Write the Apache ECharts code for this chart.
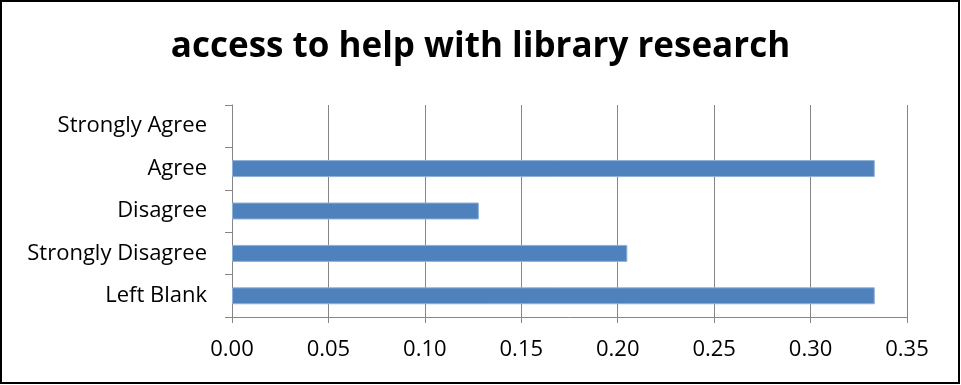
<!DOCTYPE html>
<html>
<head>
<meta charset="utf-8">
<script src="https://cdn.jsdelivr.net/npm/echarts@6/dist/echarts.min.js"></script>
<style>
html,body{margin:0;padding:0;background:#fff;}
#chart{width:961px;height:385px;}
</style>
</head>
<body>
<div id="chart"></div>
<script>
const titleText = 'access to help with library research';
const categories = ['Left Blank', 'Strongly Disagree', 'Disagree', 'Agree', 'Strongly Agree'];
const values = [0.3333, 0.205, 0.128, 0.3333, 0];
const xTicks = { min: 0, max: 0.35, interval: 0.05 };

const chart = echarts.init(document.getElementById('chart'), null, { renderer: 'canvas' });
chart.setOption({
  animation: false,
  backgroundColor: '#fff',
  title: {
    text: titleText,
    left: 'center',
    top: 25,
    textStyle: { fontFamily: 'Open Sans', fontWeight: 'bold', fontSize: 35, color: '#000' }
  },
  graphic: [{
    type: 'rect',
    shape: { x: 1, y: 1, width: 958, height: 382 },
    style: { fill: 'none', stroke: '#000', lineWidth: 2 },
    silent: true
  }],
  grid: { left: 232, right: 54, top: 105, bottom: 68, containLabel: false },
  xAxis: {
    type: 'value',
    min: xTicks.min, max: xTicks.max, interval: xTicks.interval,
    axisLine: { show: true, lineStyle: { color: '#868686', width: 1 } },
    axisTick: { show: true, length: 6, lineStyle: { color: '#868686' } },
    splitLine: { show: true, lineStyle: { color: '#868686', width: 1 } },
    axisLabel: {
      formatter: v => v.toFixed(2),
      fontFamily: 'Open Sans', fontSize: 22, color: '#000', margin: 22
    }
  },
  yAxis: {
    type: 'category',
    data: categories,
    axisLine: { show: true, lineStyle: { color: '#868686', width: 1 } },
    axisTick: { show: true, length: 7, lineStyle: { color: '#868686' } },
    splitLine: { show: false },
    axisLabel: { fontFamily: 'Open Sans', fontSize: 22, color: '#000', margin: 25 }
  },
  series: [{
    type: 'bar',
    data: values.map(v => v === 0 ? { value: v, itemStyle: { borderWidth: 0 } } : v),
    barCategoryGap: '60%',
    itemStyle: { color: '#4F81BD', borderColor: '#8FB0D8', borderWidth: 1 }
  }]
});
</script>
</body>
</html>
